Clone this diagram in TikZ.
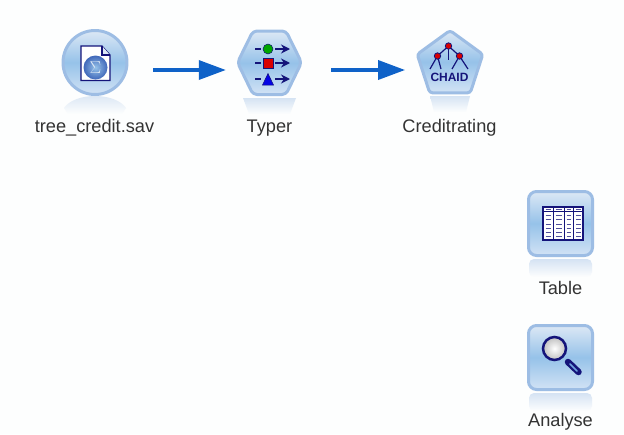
\documentclass[tikz,border=0pt]{standalone}
\usepackage{fontspec}
\setmainfont{Liberation Sans}
\usetikzlibrary{arrows.meta,shapes.geometric}
\definecolor{rim}{HTML}{9DBDE4}
\definecolor{facetop}{HTML}{DCE8F5}
\definecolor{facemid}{HTML}{96C2E9}
\definecolor{facebot}{HTML}{D2E3F5}
\definecolor{navy}{HTML}{14147A}
\definecolor{flowblue}{HTML}{0F62C8}
\definecolor{bggrey}{HTML}{FDFEFE}
\definecolor{ghosttop}{HTML}{D5E3F3}

\begin{document}
\begin{tikzpicture}[x=1pt,y=-1pt,
    icon/.style={draw=rim,line width=3pt,top color=facetop,bottom color=facebot,middle color=facemid,inner sep=0pt,line join=round},
    ghost/.style={top color=ghosttop,bottom color=bggrey,draw=none},
    caption/.style={font=\fontsize{18.2}{20}\selectfont,text=black!80,inner sep=0pt},
    glyph/.style={draw=navy,line width=1.2pt},
    flow/.style={draw=flowblue,line width=3.5pt,-{Triangle[length=27pt,width=19pt]}}]
\fill[bggrey] (0,0) rectangle (624,434);
\useasboundingbox (0,0) rectangle (624,434);

\shade[ghost] (64,108) .. controls (75,92) and (115,92) .. (126,108) -- (122,114) -- (68,114) -- cycle;
\shade[ghost] (243,98) -- (296,98) -- (290,114) -- (249,114) -- cycle;
\shade[ghost] (430,96) -- (470,96) -- (466,112) -- (434,112) -- cycle;
\shade[ghost,rounded corners=5pt] (529,277) -- (529,259) -- (592,259) -- (592,277) -- cycle;
\shade[ghost,rounded corners=5pt] (529,411) -- (529,393) -- (592,393) -- (592,411) -- cycle;

\node[icon,circle,minimum size=64pt] (source) at (95,62.5) {};
\node[inner sep=0pt,minimum size=67pt] (typer) at (269.5,62.5) {};
\draw[icon,rounded corners=4pt] (237.5,62.5) -- (253,31) -- (286,31) -- (301.5,62.5) -- (286,94.5) -- (253,94.5) -- cycle;
\node[icon,regular polygon,regular polygon sides=5,minimum size=69pt,rounded corners=3pt] (chaid) at (450,65) {};
\node[icon,rectangle,rounded corners=8pt,minimum size=64pt] (table) at (560.5,223.5) {};
\node[icon,rectangle,rounded corners=8pt,minimum size=64pt] (analyse) at (560.5,357.5) {};

\node[caption] (sourcelabel) at (94.5,128) {tree\_credit.sav};
\node[caption] (typerlabel) at (269.5,128) {Typer};
\node[caption] (chaidlabel) at (449.5,128) {Creditrating};
\node[caption] (tablelabel) at (560.5,288) {Table};
\node[caption] (analyselabel) at (560.5,422) {Analyse};

\draw[flow,shorten <=24.5pt,shorten >=10pt] ([yshift=-7.5pt]source.east) -- ([yshift=-7.5pt]typer.west);
\draw[flow,shorten <=28pt,shorten >=14pt] ([yshift=-7.5pt]typer.east) -- ([yshift=-5pt]chaid.west);

\draw[glyph,fill=white] (81,46) -- (102,46) -- (110,55) -- (110,80.5) -- (81,80.5) -- cycle;
\draw[glyph,fill=facetop] (102,46) -- (102,55) -- (110,55);
\shade[inner color=facemid,outer color=flowblue!60!navy!80] (95.5,67.5) circle (12);
\node[text=facetop,font=\fontsize{19}{19}\selectfont,inner sep=0pt] (sigma) at (95.5,67.5) {$\Sigma$};

\foreach \row in {49,63,79} {
  \draw[navy,line width=1.2pt] (255,\row) -- (261,\row);
  \draw[navy,line width=1.4pt,-{Stealth[length=9pt,width=9pt]}] (275,\row) -- (290,\row);
}
\fill[green!65!black,draw=navy,line width=.5pt] (268,49) circle (5);
\fill[red!85!black,draw=navy,line width=.5pt] (263,58) rectangle (273,68);
\fill[blue!80!navy,draw=navy,line width=.5pt] (262.5,85) -- (268,73.5) -- (273.5,85) -- cycle;

\draw[glyph] (448.5,46) -- (437.5,56) -- (430,69);
\draw[glyph] (437.5,56) -- (441,69);
\draw[glyph] (448.5,46) -- (459.5,56) -- (452,69);
\draw[glyph] (459.5,56) -- (468,69);
\draw[glyph] (448.5,46) -- (448.5,60);
\foreach \nx/\ny in {448.5/46,437.5/56,459.5/56} {
  \fill[red!85!black,draw=navy,line width=.8pt] (\nx,\ny) circle (3.2);
}
\node[font=\bfseries\fontsize{12}{12}\selectfont,text=navy,inner sep=0pt] (chaidtext) at (449.5,77) {CHAID};

\draw[glyph,fill=white] (543,207) rectangle (583,240);
\foreach \col in {553,564,573} {
  \draw[navy,line width=1pt] (\col,207) -- (\col,240);
}
\draw[navy,line width=1pt] (543,211.7) -- (583,211.7);
\foreach \row in {209.5,215,219.5,224,228,232,236} {
  \foreach \col/\wid in {545.5/5,556/5.5,566.5/4.5,576/4.5} {
    \draw[navy!75!white,line width=1pt] (\col,\row) -- ++(\wid,0);
  }
}

\draw[navy,line width=6.5pt,line cap=round] (568,362) -- (578.5,372);
\draw[flowblue!60!white,line width=1.5pt,line cap=round] (570,364) -- (577,371);
\shade[draw=navy,inner color=white,outer color=black!25,line width=2.5pt] (554.5,348.5) circle (11.5);
\end{tikzpicture}
\end{document}
